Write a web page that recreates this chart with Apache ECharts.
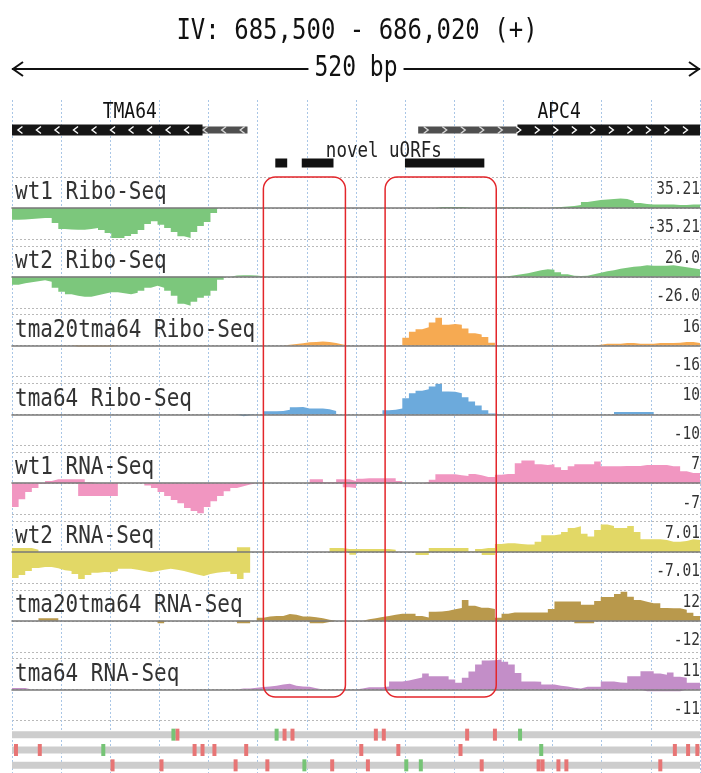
<!DOCTYPE html>
<html>
<head>
<meta charset="utf-8">
<script src="https://cdn.jsdelivr.net/npm/echarts@6/dist/echarts.min.js"></script>
<style>
  html, body { margin: 0; padding: 0; background: #ffffff; }
  #chart { width: 701px; height: 773px; }
</style>
</head>
<body>
<div id="chart"></div>
<script>
// ---- region ----
const chromosome = 'IV';
const regionStart = 685500;
const regionEnd = 686020;
const strandLabel = '+';
const binSize = 5; // bp per coverage bin (offsets from regionStart)

// ---- coverage tracks ----
const trackNames = ['wt1 Ribo-Seq', 'wt2 Ribo-Seq', 'tma20tma64 Ribo-Seq', 'tma64 Ribo-Seq',
                    'wt1 RNA-Seq', 'wt2 RNA-Seq', 'tma20tma64 RNA-Seq', 'tma64 RNA-Seq'];
const trackColors = ['#7cc77c', '#7cc77c', '#f6aa52', '#6caadc',
                     '#f196c1', '#e2d866', '#b9994c', '#c38ec8'];
const trackMax = [35.21, 26.0, 16, 10, 7, 7.01, 12, 11];
const trackMaxLabels = ['35.21', '26.0', '16', '10', '7', '7.01', '12', '11'];

const wt1RiboPlus = [
  0,0,0,0,0,0,0,0, 0,0,0,0,0,0,0,0, 0,0,0,0,0,0,0,0, 0,0,0,0,0,0,0,0,
  0,0,0,0,0,0,0,0, 0,0,0,0,0,0,0,0, 0,0,0,0,0,0,0,0, 0,0,0,0,0,0,0,0,
  1.1,1.1,1.1,1.1,0.6,0,0,0,
  0,0.6,0.6,0.6,0.6,0.6,0,0,
  0,0.6,1.1,1.7,2.3,3.4,6.8,8.0,
  9.1,9.7,10.2,10.8,10.2,8.0,5.7,4.5,
  4.0,4.0,4.0,4.0,3.4,3.4,4.0,4.0];
const wt1RiboMinus = [
  -13.3,-13.1,-12.5,-11.9,-11.4,-11.4,-17.0,-23.9,
  -24.4,-24.7,-24.7,-23.9,-22.7,-25.0,-28.4,-34.1,
  -34.1,-31.8,-29.5,-25.0,-18.2,-15.1,-19.0,-22.7,
  -27.3,-32.2,-34.1,-27.3,-20.4,-15.9,-5.7,0,
  0,0,0,0,0,0,0,0, 0,0,0,0,0,0,0,0, 0,0,0,0,0,0,0,0, 0,0,0,0,0,0,0,0,
  0,0,0,0,0,0,0,0, 0,0,0,0,0,0,0,0, 0,0,0,0,0,0,0,0, 0,0,0,0,0,0,0,0,
  0,0,0,0,0,0,0,0];

const wt2RiboPlus = [
  0,0,0,0,0,0,0,0, 0,0,0,0,0,0,0,0, 0,0,0,0,0,0,0,0, 0,0,0,0,0,0,0,0,
  0,1.1,1.3,1.3,1.1,0.4,0,0,
  0,0,0,0,0,0,0,0, 0,0,0,0,0,0,0,0, 0,0,0,0,0,0,0,0, 0,0,0,0,0,0,0,0,
  0,0,0.4,1.3,2.1,2.9,4.2,5.5,
  6.3,5.9,3.8,2.1,0.8,0.6,0.8,2.1,
  3.4,4.6,5.5,6.7,7.6,8.4,8.8,9.6,
  9.2,9.2,9.2,9.6,8.8,8.0,7.1,6.3];
const wt2RiboMinus = [
  -6.7,-5.5,-4.6,-3.8,-2.9,-4.2,-9.2,-12.6,
  -14.7,-15.9,-16.8,-16.8,-15.5,-14.3,-13.0,-13.0,
  -13.8,-14.7,-13.4,-11.7,-9.2,-7.6,-9.2,-11.7,
  -15.9,-22.7,-24.3,-21.0,-17.6,-15.9,-11.7,-2.5,
  0,0,0,0,0,0,0,0, 0,0,0,0,0,0,0,0, 0,0,0,0,0,0,0,0, 0,0,0,0,0,0,0,0,
  0,0,0,0,0,0,0,0, 0,0,0,0,0,0,0,0, 0,0,0,0,0,0,0,0, 0,0,0,0,0,0,0,0,
  0,0,0,0,0,0,0,0];

const tma20RiboPlus = [
  0,0,0,0,0,0,0,0, 0,0,0,0,0,0,0,0, 0,0,0,0,0,0,0,0, 0,0,0,0,0,0,0,0,
  0,0,0,0,0,0,0,0,
  0,0.4,0.8,1.2,1.7,1.9,2.1,1.8,
  1.3,0.6,0,0,0,0,0,0,
  0,0,0,4.1,7.2,8.5,9.5,11.9,
  14.4,10.8,11.1,10.8,8.8,6.4,5.7,4.4,
  1.5,0,0,0,0,0,0,0,
  0,0,0,0,0,0,0,0,
  0.5,1.0,1.0,1.0,1.3,1.3,1.0,1.0,
  1.0,1.3,1.3,1.3,1.5,1.8,1.8,1.3];
const tma20RiboMinus = [
  0,0,0,0,0,0,0,0,
  0,-0.5,-0.5,-0.5,-0.5,-0.5,-0.5,0,
  0,0,0,0,0,0,0,0, 0,0,0,0,0,0,0,0,
  0,0,0,0,0,0,0,0, 0,0,0,0,0,0,0,0, 0,0,0,0,0,0,0,0, 0,0,0,0,0,0,0,0,
  0,0,0,0,0,0,0,0, 0,0,0,0,0,0,0,0, 0,0,0,0,0,0,0,0, 0,0,0,0,0,0,0,0,
  0,0,0,0,0,0,0,0];

const tma64RiboPlus = [
  0,0,0,0,0,0,0,0, 0,0,0,0,0,0,0,0, 0,0,0,0,0,0,0,0, 0,0,0,0,0,0,0,0,
  0,0,0,0,0,0,1.0,1.0,
  1.1,1.5,2.3,2.4,1.9,1.9,1.9,1.7,
  1.1,0,0,0,0,0,0,0,
  1.3,1.5,1.9,5.2,6.8,7.6,8.1,9.0,
  9.9,7.4,7.3,6.8,5.5,4.2,2.9,1.3,
  0.3,0,0,0,0,0,0,0,
  0,0,0,0,0,0,0,0,
  0,0,0,0.8,0.8,0.8,0.8,0.8,
  0.8,0,0,0,0,0,0,0];
const tma64RiboMinus = [
  0,0,0,0,0,0,0,0, 0,0,0,0,0,0,0,0, 0,0,0,0,0,0,0,0, 0,0,0,0,0,0,0,0,
  0,0,-0.6,-0.3,0,0,0,0,
  0,0,0,0,0,0,0,0, 0,0,0,0,0,0,0,0, 0,0,0,0,0,0,0,0,
  0,0,0,0,0,0,0,0, 0,0,0,0,0,0,0,0, 0,0,0,0,0,0,0,0, 0,0,0,0,0,0,0,0,
  0,0,0,0,0,0,0,0];

const wt1RnaPlus = [
  0,0,0,0,0,0.5,0.9,0.9,
  0.9,0.9,0.9,0.2,0,0,0,0,
  0,0,0,0,0,0,0,0, 0,0,0,0,0,0,0,0, 0,0,0,0,0,0,0,0,
  0,0,0,0,0,0.9,0.9,0.2,
  0.2,0.9,0.9,0.5,1.0,1.1,1.1,1.1,
  1.1,1.1,0.5,0,0,0,0.2,0.8,
  2.0,2.0,2.0,1.8,1.6,2.1,1.8,1.4,
  1.4,1.9,2.1,2.1,4.5,5.1,5.1,4.3,
  4.1,4.3,3.6,3.0,3.8,4.3,4.3,4.3,
  4.9,3.8,3.8,3.8,3.9,3.9,3.9,4.1,
  4.1,4.1,4.1,3.8,3.8,2.7,2.3,2.3];
const wt1RnaMinus = [
  -5.4,-3.6,-2.0,-1.1,-0.2,0,0,0,
  0,0,-2.9,-2.9,-2.9,-2.9,-2.9,-2.9,
  0,0,0,0,-0.5,-1.1,-2.0,-2.9,
  -3.8,-4.5,-5.6,-6.3,-6.8,-5.4,-4.1,-2.9,
  -1.8,-1.1,-0.7,-0.3,0,0,0,0,
  0,0,0,0,0,0,0,0,
  0,0,-0.9,-1.1,0,0,0,0,
  0,0,0,0,0,0,0,0, 0,0,0,0,0,0,0,0, 0,0,0,0,0,0,0,0,
  0,0,0,0,0,0,0,0, 0,0,0,0,0,0,0,0, 0,0,0,0,0,0,0,0];

const wt2RnaPlus = [
  0.9,0.9,0.9,0.5,0,0,0,0,
  0,0,0,0,0,0,0,0, 0,0,0,0,0,0,0,0, 0,0,0,0,0,0,0,0,
  0,0,1.1,1.1,0,0,0,0,
  0,0,0,0,0,0,0,0,
  0.9,0.9,0.7,0.7,0.7,0.7,0.7,0.7,
  0.7,0.5,0,0,0,0,0.2,0.9,
  0.9,0.9,0.9,0.9,0.9,0.1,0.7,0.9,
  0.9,1.8,2.0,2.0,1.8,1.7,1.7,2.3,
  3.8,3.8,4.0,4.5,5.4,5.8,4.1,3.5,
  5.0,6.2,5.9,5.4,5.4,5.9,4.5,2.9,
  2.9,2.9,2.7,2.3,2.3,2.5,2.9,2.7];
const wt2RnaMinus = [
  -5.9,-5.2,-4.3,-3.6,-3.4,-3.4,-3.7,-4.1,
  -4.3,-5.0,-6.1,-5.2,-4.7,-4.5,-4.6,-4.3,
  -3.8,-3.8,-4.0,-4.3,-4.6,-4.3,-4.0,-3.8,
  -4.0,-4.3,-4.7,-5.1,-5.4,-5.0,-4.7,-4.5,
  -4.4,-5.0,-6.1,-4.7,0,0,0,0,
  0,0,0,0,0,0,0,0,
  0,0,0,-0.6,0,0,0,0,
  0,0,0,0,0,-0.7,-0.7,0,
  0,0,0,0,0,0,0,-0.7,
  -0.7,0,0,0,0,0,0,0,
  0,0,0,0,0,0,0,0, 0,0,0,0,0,0,0,0, 0,0,0,0,0,0,0,0];

const tma20RnaPlus = [
  0,0,0,0,1.0,1.0,1.0,0,
  0,0,0,0,0,0,0,0, 0,0,0,0,0,0,0,0, 0,0,0,0,0,0,0,0,
  0,0,0,0,0,1.2,1.7,1.9,
  1.9,2.6,2.3,1.7,1.7,1.4,1.0,0.4,
  0,0,0,0,0,0.6,1.0,1.5,
  1.9,2.3,2.7,2.7,2.7,1.9,1.3,3.5,
  3.6,3.9,4.5,5.0,8.1,5.8,5.1,5.1,
  4.6,1.2,2.7,3.2,3.2,3.2,3.2,3.2,
  3.2,4.6,7.5,7.5,7.5,7.5,6.2,6.2,
  7.7,9.2,9.2,10.4,11.2,9.3,8.1,7.4,
  6.8,6.8,5.0,4.9,4.9,4.3,3.1,1.9];
const tma20RnaMinus = [
  0,0,0,0,0,0,0,0, 0,0,0,0,0,0,0,0,
  0,0,0,0,0,0,-0.9,0,
  0,0,0,0,0,0,0,0,
  0,0,-0.9,-0.9,0,0,0,0,
  0,0,0,0,0,-0.9,-0.9,-0.5,
  0,0,0,0,0,0,0,0, 0,0,0,0,0,0,0,0, 0,0,0,0,0,0,0,0, 0,0,0,0,0,0,0,0,
  0,0,0,0,0,-0.9,-0.9,-0.9,
  0,0,0,0,0,0,0,0, 0,0,0,0,0,0,0,0];

const tma64RnaPlus = [
  0.6,0.6,0,0,0,0,0,0,
  0,0,0,0,0,0,0,0, 0,0,0,0,0,0,0,0, 0,0,0,0,0,0,0,0,
  0,0,0.4,0.4,0.7,0.9,1.1,1.4,
  1.8,2.1,1.4,1.1,1.0,0.5,0,0,
  0,0,0,0,0.4,0.8,0.8,0.8,
  1.1,2.9,2.9,3.2,3.8,4.3,5.7,4.7,
  4.7,4.7,3.6,2.4,4.2,6.4,8.9,10.3,
  10.4,10.7,9.9,8.9,5.9,2.9,2.9,2.8,
  1.8,1.8,1.4,1.1,0.7,0.4,1.0,1.0,
  1.0,2.9,2.9,2.5,2.4,4.7,4.7,6.5,
  6.5,5.7,5.3,6.1,4.6,4.2,2.4,2.4];
const tma64RnaMinus = [
  0,0,0,0,0,0,0,0, 0,0,0,0,0,0,0,0, 0,0,0,0,0,0,0,0, 0,0,0,0,0,0,0,0,
  0,0,0,0,0,0,0,0, 0,0,0,0,0,0,0,0, 0,0,0,0,0,0,0,0, 0,0,0,0,0,0,0,0,
  0,0,0,0,0,0,0,0, 0,0,0,0,0,0,0,0, 0,0,0,0,0,0,0,0,
  0,0,0,0,0,0,0,-0.6,
  -0.6,-0.6,-0.6,-0.6,-0.6,0,0,0];

const plusTracks = [wt1RiboPlus, wt2RiboPlus, tma20RiboPlus, tma64RiboPlus,
                    wt1RnaPlus, wt2RnaPlus, tma20RnaPlus, tma64RnaPlus];
const minusTracks = [wt1RiboMinus, wt2RiboMinus, tma20RiboMinus, tma64RiboMinus,
                     wt1RnaMinus, wt2RnaMinus, tma20RnaMinus, tma64RnaMinus];

// ---- gene annotation (bp offsets from regionStart) ----
const geneNames = ['TMA64', 'APC4'];
const geneStarts = [0, 307];
const geneEnds = [178, 520];
const cdsStarts = [0, 382];
const cdsEnds = [144, 520];
const geneStrands = [-1, 1];

const uorfLabel = 'novel uORFs';
const uorfStarts = [199, 219, 297];
const uorfEnds = [208, 243, 357];

const highlightStarts = [190, 282];
const highlightEnds = [252, 366];

// ---- variant rows (bp offsets) ----
const variantRowNames = ['row1', 'row2', 'row3'];
const variantRedRow1 = [125, 206, 212, 275, 281, 344, 365];
const variantGreenRow1 = [122, 200, 384];
const variantRedRow2 = [3, 21, 138, 144, 153, 177, 264, 292, 339, 501, 511, 518];
const variantGreenRow2 = [69, 400];
const variantRedRow3 = [76, 113, 169, 193, 242, 269, 355, 398, 401, 413, 419, 490];
const variantGreenRow3 = [221, 298, 309];

// ---- layout ----
const FONT = '"DejaVu Sans Mono", monospace';
const TALL = 1.2; // vertical stretch for the narrow monospace lettering
const plotLeft = 12;
const plotWidth = 688;
const span = regionEnd - regionStart;
const trackTop0 = 177;
const trackPitch = 68.8;
const trackHeight = 62;
const geneTop = 100;
const geneHeight = 77;
const boxTop = 177;
const boxBottom = 697;

const chart = echarts.init(document.getElementById('chart'), null, { renderer: 'canvas' });

const grids = [];
const xAxes = [];
const yAxes = [];
const series = [];
const hidden = { axisLine: { show: false }, axisTick: { show: false }, axisLabel: { show: false }, splitLine: { show: false } };

// background grid: vertical guide lines
grids.push({ left: plotLeft, width: plotWidth, top: geneTop, bottom: 0, containLabel: false });
xAxes.push(Object.assign({ gridIndex: 0, type: 'value', min: 0, max: span, interval: span / 14 }, hidden,
  { splitLine: { show: true, lineStyle: { color: '#a9c6e6', type: [2, 2], width: 1 } } }));
yAxes.push(Object.assign({ gridIndex: 0, type: 'value', min: 0, max: 1 }, hidden));

// gene grid
grids.push({ left: plotLeft, width: plotWidth, top: geneTop, height: geneHeight, containLabel: false });
xAxes.push(Object.assign({ gridIndex: 1, type: 'value', min: 0, max: span }, hidden));
yAxes.push(Object.assign({ gridIndex: 1, type: 'value', min: 0, max: geneHeight, inverse: true }, hidden));

const toSteps = vals => {
  const d = vals.map((v, i) => [i * binSize, v]);
  d.push([vals.length * binSize, vals[vals.length - 1]]);
  return d;
};

// coverage grids
trackNames.forEach((name, t) => {
  const g = grids.length;
  const m = trackMax[t];
  grids.push({ left: plotLeft, width: plotWidth, top: trackTop0 + trackPitch * t, height: trackHeight, containLabel: false });
  xAxes.push({
    gridIndex: g, type: 'value', min: 0, max: span, z: 3,
    axisLine: { show: true, onZero: true, lineStyle: { color: '#787878', width: 1.6 } },
    axisTick: { show: false }, axisLabel: { show: false }, splitLine: { show: false }
  });
  const yIdx = yAxes.length;
  yAxes.push({
    gridIndex: g, type: 'value', min: -m, max: m, interval: m,
    axisLine: { show: false }, axisTick: { show: false }, axisLabel: { show: false },
    splitLine: { show: true, lineStyle: { color: '#b9b9b9', type: [2, 2], width: 1 } }
  });
  [plusTracks[t], minusTracks[t]].forEach(vals => {
    series.push({
      type: 'line', xAxisIndex: g, yAxisIndex: yIdx, data: toSteps(vals),
      step: 'end', symbol: 'none', showSymbol: false, silent: true, z: 2,
      lineStyle: { width: 0 }, areaStyle: { color: trackColors[t], opacity: 1 }
    });
  });
});

// variant rows grid
const vg = grids.length;
grids.push({ left: plotLeft, width: plotWidth, top: 727, height: 48, containLabel: false });
xAxes.push(Object.assign({ gridIndex: vg, type: 'value', min: 0, max: span }, hidden));
const vy = yAxes.length;
yAxes.push(Object.assign({ gridIndex: vg, type: 'category', data: variantRowNames, inverse: true }, hidden));

// gene models
series.push({
  type: 'custom', xAxisIndex: 1, yAxisIndex: 1, silent: true, z: 4, clip: true,
  data: geneNames.map((n, i) => [geneStarts[i], geneEnds[i], cdsStarts[i], cdsEnds[i], geneStrands[i], i]),
  renderItem: (params, api) => {
    const s = api.value(0), e = api.value(1), cs = api.value(2), ce = api.value(3), dir = api.value(4);
    const idx = api.value(5);
    const yc = api.coord([0, 30])[1];
    const px = v => api.coord([v, 30])[0];
    const children = [
      { type: 'rect', shape: { x: px(s), y: yc - 3.5, width: px(e) - px(s), height: 7 }, style: { fill: '#4f4f4f' } },
      { type: 'rect', shape: { x: px(cs), y: yc - 5.5, width: px(ce) - px(cs), height: 11 }, style: { fill: '#161616' } }
    ];
    for (let p = s + 6; p < e - 3; p += 14) {
      const x = px(p);
      const inCds = p >= cs && p <= ce;
      const pts = dir < 0 ? [[x + 2.5, yc - 3.5], [x - 2, yc], [x + 2.5, yc + 3.5]]
                          : [[x - 2.5, yc - 3.5], [x + 2, yc], [x - 2.5, yc + 3.5]];
      children.push({ type: 'polyline', shape: { points: pts },
        style: { stroke: inCds ? '#ffffff' : '#d8d8d8', lineWidth: 1.4, fill: null } });
    }
    children.push({ type: 'text', x: (px(s) + px(e)) / 2, y: api.coord([0, 12])[1], scaleY: TALL,
      style: { text: geneNames[idx], x: 0, y: 0, align: 'center', verticalAlign: 'middle',
               font: '18px ' + FONT, fill: '#111' } });
    return { type: 'group', children };
  }
});

// uORFs
series.push({
  type: 'custom', xAxisIndex: 1, yAxisIndex: 1, silent: true, z: 4,
  data: uorfStarts.map((s, i) => [s, uorfEnds[i]]),
  renderItem: (params, api) => {
    const a = api.coord([api.value(0), 63]);
    const b = api.coord([api.value(1), 63]);
    const children = [{ type: 'rect', shape: { x: a[0], y: a[1] - 4.5, width: b[0] - a[0], height: 9 }, style: { fill: '#111' } }];
    if (params.dataIndex === 0) {
      const l = api.coord([Math.min(...uorfStarts), 52]);
      const r = api.coord([Math.max(...uorfEnds), 52]);
      children.push({ type: 'text', x: (l[0] + r[0]) / 2 + 4, y: l[1], scaleY: TALL,
        style: { text: uorfLabel, x: 0, y: 0, align: 'center', verticalAlign: 'middle',
                 font: '17.5px ' + FONT, fill: '#222' } });
    }
    return { type: 'group', children };
  }
});

// highlighted regions
series.push({
  type: 'custom', xAxisIndex: 0, yAxisIndex: 0, silent: true, z: 10,
  data: highlightStarts.map((s, i) => [s, highlightEnds[i]]),
  renderItem: (params, api) => {
    const x0 = api.coord([api.value(0), 0])[0];
    const x1 = api.coord([api.value(1), 0])[0];
    return { type: 'rect', shape: { x: x0, y: boxTop, width: x1 - x0, height: boxBottom - boxTop, r: 12 },
      style: { stroke: '#e3262b', lineWidth: 1.5, fill: null } };
  }
});

// variant row backgrounds
series.push({
  type: 'custom', xAxisIndex: vg, yAxisIndex: vy, silent: true, z: 2,
  data: variantRowNames.map((n, i) => [i]),
  renderItem: (params, api) => {
    const a = api.coord([0, api.value(0)]);
    const b = api.coord([span, api.value(0)]);
    return { type: 'rect', shape: { x: a[0], y: a[1] - 3.5, width: b[0] - a[0], height: 7 }, style: { fill: '#cdcdcd' } };
  }
});
const reds = [variantRedRow1, variantRedRow2, variantRedRow3];
const greens = [variantGreenRow1, variantGreenRow2, variantGreenRow3];
series.push({
  type: 'scatter', xAxisIndex: vg, yAxisIndex: vy, silent: true, z: 3,
  symbol: 'rect', symbolSize: [4, 12], itemStyle: { color: '#e77575', opacity: 1 },
  data: reds.flatMap((row, r) => row.map(p => [p, r]))
});
series.push({
  type: 'scatter', xAxisIndex: vg, yAxisIndex: vy, silent: true, z: 3,
  symbol: 'rect', symbolSize: [4, 12], itemStyle: { color: '#76c476', opacity: 1 },
  data: greens.flatMap((row, r) => row.map(p => [p, r]))
});

// header: location, scale arrow, track names and scale labels
const fmt = v => v.toLocaleString('en-US');
const midX = plotLeft + plotWidth / 2;
const plotRight = plotLeft + plotWidth;
const arrowY = 69;
const graphics = [
  { type: 'text', x: midX + 1, y: 32, scaleY: TALL,
    style: { text: chromosome + ': ' + fmt(regionStart) + ' - ' + fmt(regionEnd) + ' (' + strandLabel + ')',
      x: 0, y: 0, align: 'center', verticalAlign: 'middle', font: '24px ' + FONT, fill: '#111' } },
  { type: 'line', shape: { x1: plotLeft, y1: arrowY, x2: plotRight, y2: arrowY }, style: { stroke: '#111', lineWidth: 2 } },
  { type: 'polyline', shape: { points: [[plotLeft + 11, arrowY - 7], [plotLeft + 1, arrowY], [plotLeft + 11, arrowY + 7]] },
    style: { stroke: '#111', lineWidth: 2, fill: null } },
  { type: 'polyline', shape: { points: [[plotRight - 11, arrowY - 7], [plotRight - 1, arrowY], [plotRight - 11, arrowY + 7]] },
    style: { stroke: '#111', lineWidth: 2, fill: null } },
  { type: 'text', x: midX, y: arrowY, z: 10, scaleY: TALL,
    style: { text: span + ' bp', x: 0, y: 0, align: 'center', verticalAlign: 'middle',
      font: '23px ' + FONT, fill: '#111', backgroundColor: '#fff', padding: [0, 6] } }
];
trackNames.forEach((name, t) => {
  const top = trackTop0 + trackPitch * t;
  graphics.push({ type: 'text', x: 15, y: top + 3, z: 5, scaleY: TALL,
    style: { text: name, x: 0, y: 0, align: 'left', verticalAlign: 'top', font: '21px ' + FONT, fill: '#333' } });
  graphics.push({ type: 'text', x: plotRight, y: top + 3, z: 5, scaleY: 1.25,
    style: { text: trackMaxLabels[t], x: 0, y: 0, align: 'right', verticalAlign: 'top', font: '14.5px ' + FONT, fill: '#333' } });
  graphics.push({ type: 'text', x: plotRight, y: top + trackHeight - 2, z: 5, scaleY: 1.25,
    style: { text: '-' + trackMaxLabels[t], x: 0, y: 0, align: 'right', verticalAlign: 'bottom', font: '14.5px ' + FONT, fill: '#333' } });
});

chart.setOption({
  animation: false,
  backgroundColor: '#ffffff',
  grid: grids,
  xAxis: xAxes,
  yAxis: yAxes,
  series: series,
  graphic: graphics
});
</script>
</body>
</html>
